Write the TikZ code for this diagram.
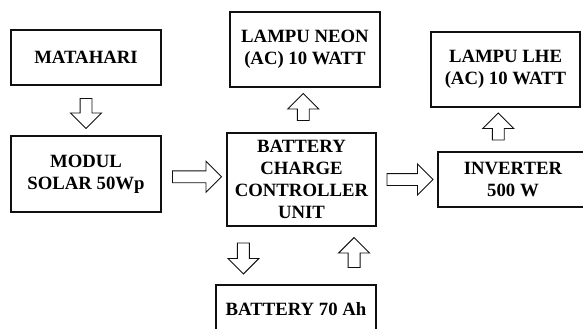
\documentclass[tikz,border=0pt]{standalone}
\usepackage{fontspec}
\setmainfont{Liberation Serif}
\usetikzlibrary{calc, shapes.arrows}
\definecolor{InkBlack}{HTML}{101010}
\tikzset{
  block/.style={draw=InkBlack, line width=1.7pt, fill=white, align=center, inner sep=2pt, font=\fontsize{16}{18.7}\selectfont\bfseries},
  fatarrow/.style={single arrow, draw=InkBlack, line width=0.8pt, fill=white, inner sep=0.165cm, minimum width=0.9cm, single arrow head extend=0.285cm, single arrow tip angle=90}
}

\begin{document}
\begin{tikzpicture}[x=0.03cm, y=0.03cm]
\useasboundingbox (0,0) rectangle (583,328);
\clip (0,0) rectangle (583,328);
\node[block, minimum width=4.5cm, minimum height=1.65cm] (mat) at (86,270.5) {MATAHARI};
\node[block, minimum width=4.5cm, minimum height=2.28cm] (mod) at (86,154) {MODUL\\SOLAR 50Wp};
\node[block, minimum width=4.47cm, minimum height=2.79cm] (bccu) at (301.5,148.5) {BATTERY\\CHARGE\\CONTROLLER\\UNIT};
\node[block, minimum width=4.5cm, minimum height=2.25cm] (neon) at (305,278.5) {LAMPU NEON\\(AC) 10 WATT};
\node[block, minimum width=4.5cm, minimum height=1.65cm] (inv) at (513,148.5) {INVERTER\\500 W};
\node[block, minimum width=4.47cm, minimum height=2.25cm] (lhe) at (505.5,258.5) {LAMPU LHE\\(AC) 10 WATT};
\node[block, minimum width=4.8cm, minimum height=1.44cm] (bat) at (296,19) {BATTERY 70 Ah};
% block arrows between the boxes
\node[fatarrow, minimum height=0.9cm, shape border rotate=270] (a1) at ($(mat.south)!0.5!(mod.north)$) {};
\node[fatarrow, minimum height=1.47cm] (a2) at ($(mod.east)!0.5!(bccu.west)$) {};
\node[fatarrow, minimum height=0.81cm, shape border rotate=90] (a3) at ($(bccu.north)!0.5!(neon.south)$) {};
\node[fatarrow, minimum height=1.38cm] (a4) at ($(bccu.east)!0.5!(inv.west)$) {};
\node[fatarrow, minimum height=0.81cm, shape border rotate=90, xshift=-0.33cm] (a5) at ($(inv.north)!0.5!(lhe.south)$) {};
\node[fatarrow, minimum height=0.93cm, shape border rotate=270, xshift=-1.66cm] (a6) at ($(bccu.south)!0.5!(bat.north)$) {};
\node[fatarrow, minimum height=0.9cm, shape border rotate=90, xshift=1.66cm] (a7) at ($(bccu.south)!0.5!(bat.north)$) {};
\end{tikzpicture}
\end{document}
